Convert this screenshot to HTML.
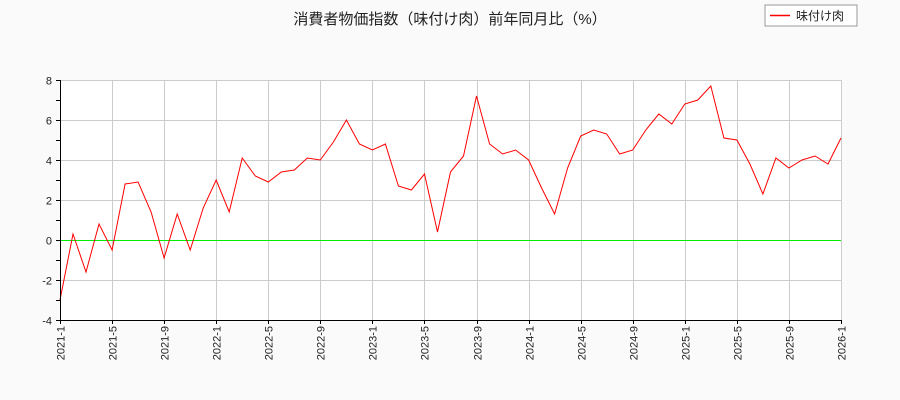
<!DOCTYPE html><html><head><meta charset="utf-8"><style>body{margin:0;background:#fafafa}svg{display:block}text{font-family:"Liberation Sans","Noto Sans CJK JP",sans-serif;fill:#222}</style></head><body>
<svg width="900" height="400" xmlns="http://www.w3.org/2000/svg">
<rect width="900" height="400" fill="#fafafa"/>
<rect x="60" y="80" width="781" height="240" fill="#fff"/>
<text x="450" y="24" font-size="15" text-anchor="middle">消費者物価指数（味付け肉）前年同月比（%）</text>
<rect x="765" y="5" width="92" height="21" fill="#fff" stroke="#999"/>
<line x1="770" y1="15.5" x2="790" y2="15.5" stroke="#f00" stroke-width="1.5"/>
<text x="796" y="20" font-size="12">味付け肉</text>
<g id="g" stroke="#ccc" stroke-width="1"></g>
<line x1="60" y1="240.5" x2="841" y2="240.5" stroke="#0e0" stroke-width="1"/>
<polyline id="p" fill="none" stroke="#f00" stroke-width="1"/>
<g id="ax" stroke="#000"></g>
<g id="lb" font-size="11"></g>
</svg>
<script>
var v=[-3.0,0.3,-1.6,0.8,-0.5,2.8,2.9,1.4,-0.9,1.3,-0.5,1.6,3.0,1.4,4.1,3.2,2.9,3.4,3.5,4.1,4.0,4.9,6.0,4.8,4.5,4.8,2.7,2.5,3.3,0.4,3.4,4.2,7.2,4.8,4.3,4.5,4.0,2.6,1.3,3.6,5.2,5.5,5.3,4.3,4.5,5.5,6.3,5.8,6.8,7.0,7.7,5.1,5.0,3.8,2.3,4.1,3.6,4.0,4.2,3.8,5.1];
var X=i=>60+i*781/60,Y=d=>240-d*20,ns="http://www.w3.org/2000/svg";
function el(p,t,a,tx){var e=document.createElementNS(ns,t);for(var k in a)e.setAttribute(k,a[k]);if(tx!==undefined)e.textContent=String(tx);document.getElementById(p).appendChild(e);}
document.getElementById('p').setAttribute('points',v.map((d,i)=>X(i).toFixed(1)+','+Y(d).toFixed(1)).join(' '));
for(var d=-4;d<=8;d++){var y=Y(d)+.5;if(d%2==0){el('g','line',{x1:60,x2:841,y1:y,y2:y});el('lb','text',{x:52,y:y+4,'text-anchor':'end'},d);}el('ax','line',{x1:56,x2:60,y1:y,y2:y});}
for(var i=0;i<=60;i+=4){var x=Math.round(X(i))+.5;el('g','line',{x1:x,x2:x,y1:80,y2:320});el('ax','line',{x1:x,x2:x,y1:320,y2:324});var yr=2021+Math.floor(i/12),m=i%12+1;el('lb','text',{transform:'translate('+(x+4)+',326) rotate(-90)','text-anchor':'end'},yr+'-'+m);}
el('ax','line',{x1:60.5,x2:60.5,y1:80,y2:320});el('ax','line',{x1:60,x2:841,y1:320.5,y2:320.5});
</script></body></html>
